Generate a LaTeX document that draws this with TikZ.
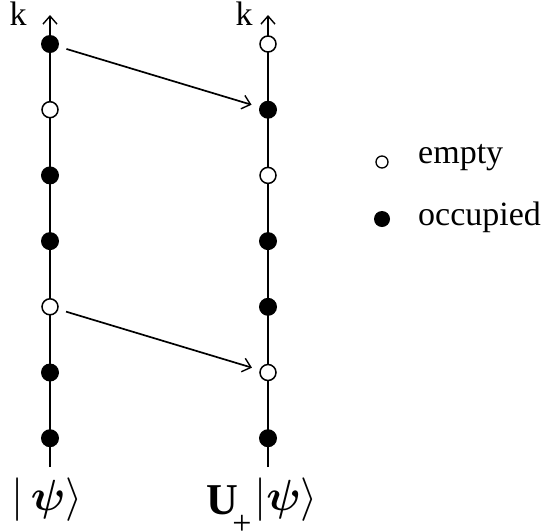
\documentclass[tikz,border=0pt]{standalone}
\usepackage{amsmath, amssymb, bm}
\usepackage{graphicx}
\usepackage{fontspec}
\setmainfont{Liberation Serif}
\usepackage{tikz}
\usetikzlibrary{arrows.meta, positioning}
\newcommand{\bigket}[1]{\scalebox{1.75}{$|#1\bm{\psi}\rangle$}}

\begin{document}
\begin{tikzpicture}[x=1pt, y=-1pt,
   occ/.style={circle, fill=black, minimum size=18pt, inner sep=0pt},
   emp/.style={circle, draw, fill=white, line width=1.5pt, minimum size=16pt, inner sep=0pt},
   axis/.style={line width=1.6pt, -{Straight Barb[length=8pt, width=14pt, line width=1.4pt]}},
   jump/.style={line width=1.7pt, shorten <=8pt, shorten >=8pt,
                -{Straight Barb[length=8pt, width=14pt, line width=1.4pt]}},
   lbl/.style={font=\fontsize{34}{40}\selectfont, inner sep=0pt}]
  \useasboundingbox (0,0) rectangle (548,531);

  % axes
  \coordinate (Lbot) at (50,467);
  \coordinate (Ltop) at (50,15);
  \coordinate (Rbot) at (268,467);
  \coordinate (Rtop) at (268,15);
  \draw[axis] (Lbot) -- (Ltop);
  \draw[axis] (Rbot) -- (Rtop);
  \node[lbl] (kL) at (18,14) {k};
  \node[lbl] (kR) at (244,14) {k};

  % levels
  \foreach \s [count=\i] in {occ,emp,occ,occ,emp,occ,occ}
    \node[\s] (L\i) at (50,{44+65.7*(\i-1)}) {};
  \foreach \s [count=\i] in {emp,occ,emp,occ,occ,emp,occ}
    \node[\s] (R\i) at (268,{44+65.7*(\i-1)}) {};

  \draw[jump] (L1) -- (R2);
  \draw[jump] (L5) -- (R6);

  % legend
  \node[emp, minimum size=12pt, line width=1.3pt] (keyE) at (382,162) {};
  \node[occ, minimum size=16pt] (keyO) at (382,219) {};
  \node[lbl, anchor=west] (txtE) at (418,158) {empty};
  \node[lbl, anchor=west] (txtO) at (418,217) {occupied};

  % states
  \node[lbl] (psiL) at (47,500) {\bigket{\,}};
  \node[lbl, font=\fontsize{44}{48}\selectfont\bfseries] (opU) at (222,500) {U};
  \node[lbl] (opPlus) at (242,525) {+};
  \node[lbl] (psiR) at (286,500) {\bigket{}};
\end{tikzpicture}
\end{document}
